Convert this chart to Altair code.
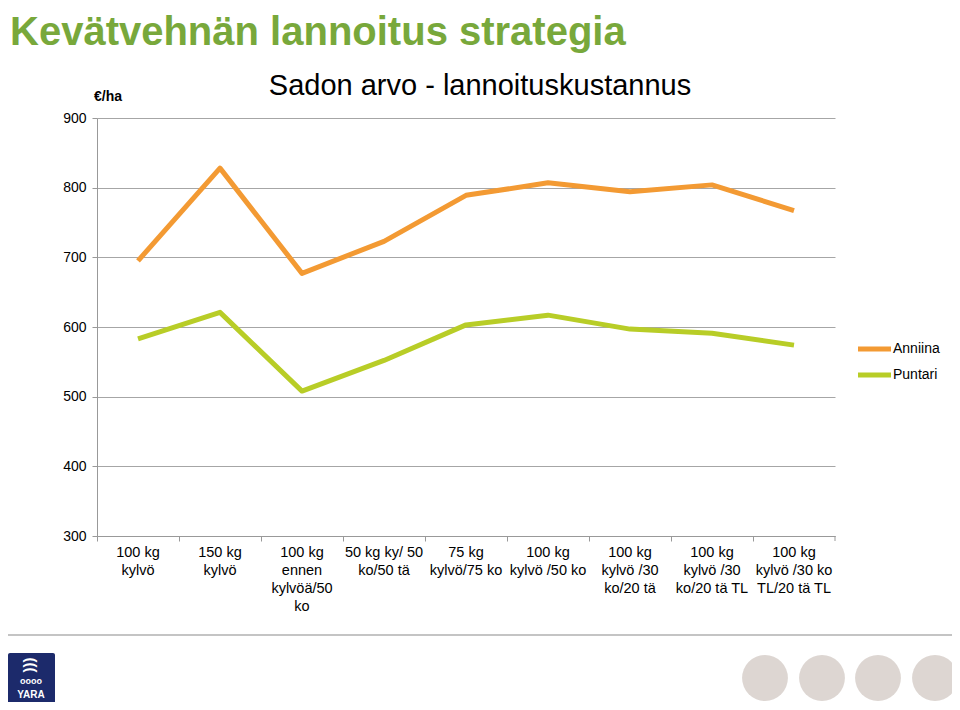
import altair as alt
import pandas as pd

categories = [
    "100 kg\nkylvö",
    "150 kg\nkylvö",
    "100 kg\nennen\nkylvöä/50\nko",
    "50 kg ky/ 50\nko/50 tä",
    "75 kg\nkylvö/75 ko",
    "100 kg\nkylvö /50 ko",
    "100 kg\nkylvö /30\nko/20 tä",
    "100 kg\nkylvö /30\nko/20 tä TL",
    "100 kg\nkylvö /30 ko\nTL/20 tä TL",
]
anniina = [695, 828, 677, 723, 789, 807, 794, 804, 767]
puntari = [583, 621, 508, 552, 603, 617, 597, 591, 574]
series_names = ["Anniina", "Puntari"]
series_colors = ["#f39a33", "#b8cd27"]
y_ticks = [300, 400, 500, 600, 700, 800, 900]

title_text = "Kevätvehnän lannoitus strategia"
subtitle_text = "Sadon arvo - lannoituskustannus"
unit_text = "€/ha"

rows = []
for name, vals in zip(series_names, [anniina, puntari]):
    for c, v in zip(categories, vals):
        rows.append({"category": c, "series": name, "value": v})
df = pd.DataFrame(rows)

W, H = 738, 418
FONT = "Liberation Sans"
one = pd.DataFrame({"k": [0]})

lines = alt.Chart(df).mark_line(strokeWidth=5, strokeJoin="round", strokeCap="butt").encode(
    x=alt.X(
        "category:N",
        sort=categories,
        scale=alt.Scale(type="band", paddingInner=0, paddingOuter=0),
        axis=alt.Axis(
            title=None,
            labelAngle=0,
            labelExpr="split(datum.label, '\\n')",
            labelFontSize=14.5,
            labelLineHeight=18,
            labelFont=FONT,
            labelColor="#000000",
            labelPadding=4,
            tickSize=5,
            tickColor="#999999",
            domainColor="#999999",
            bandPosition=0,
            grid=False,
        ),
    ),
    y=alt.Y(
        "value:Q",
        scale=alt.Scale(domain=[300, 900], nice=False, zero=False),
        axis=alt.Axis(
            title=None,
            values=y_ticks,
            labelFontSize=14,
            labelFont=FONT,
            labelColor="#000000",
            labelPadding=6,
            tickSize=5,
            tickColor="#999999",
            domainColor="#999999",
            gridColor="#a6a6a6",
            gridWidth=1,
            grid=True,
        ),
    ),
    color=alt.Color(
        "series:N",
        scale=alt.Scale(domain=series_names, range=series_colors),
        legend=None,
    ),
    order=alt.Order("series:N"),
)

layers = [lines]

# last x-axis boundary tick
layers.append(
    alt.Chart(one).mark_rule(color="#999999", strokeWidth=1).encode(
        x=alt.value(W), y=alt.value(H), y2=alt.value(H + 5)
    )
)

# legend
for i, (name, col) in enumerate(zip(series_names, series_colors)):
    ly = 349 - 118 + 26 * i
    layers.append(
        alt.Chart(one).mark_rule(color=col, strokeWidth=5).encode(
            x=alt.value(858 - 97), x2=alt.value(891 - 97), y=alt.value(ly)
        )
    )
    layers.append(
        alt.Chart(pd.DataFrame({"t": [name]})).mark_text(
            align="left", baseline="middle", font=FONT, fontSize=14, color="#000000"
        ).encode(x=alt.value(893 - 97), y=alt.value(ly), text="t:N")
    )

# titles
layers.append(
    alt.Chart(pd.DataFrame({"t": [title_text]})).mark_text(
        align="left", baseline="alphabetic", font=FONT, fontSize=40,
        fontWeight="bold", color="#78a83b"
    ).encode(x=alt.value(10 - 97), y=alt.value(45 - 118), text="t:N")
)
layers.append(
    alt.Chart(pd.DataFrame({"t": [subtitle_text]})).mark_text(
        align="center", baseline="alphabetic", font=FONT, fontSize=29, color="#000000"
    ).encode(x=alt.value(480 - 97), y=alt.value(95 - 118), text="t:N")
)
layers.append(
    alt.Chart(pd.DataFrame({"t": [unit_text]})).mark_text(
        align="left", baseline="middle", font=FONT, fontSize=14,
        fontWeight="bold", color="#000000"
    ).encode(x=alt.value(94 - 97), y=alt.value(97 - 118), text="t:N")
)

# footer separator
layers.append(
    alt.Chart(one).mark_rule(color="#c4c4c4", strokeWidth=2).encode(
        x=alt.value(8 - 97), x2=alt.value(952 - 97), y=alt.value(635 - 118)
    )
)

# logo
layers.append(
    alt.Chart(one).mark_rect(color="#1c2a6b", cornerRadius=2).encode(
        x=alt.value(8 - 97), x2=alt.value(55 - 97), y=alt.value(653 - 118), y2=alt.value(706 - 118)
    )
)
layers.append(
    alt.Chart(pd.DataFrame({"t": ["((("]})).mark_text(
        align="center", baseline="middle", font=FONT, fontSize=15, fontWeight="bold",
        color="#ffffff", angle=90
    ).encode(x=alt.value(31 - 97), y=alt.value(665 - 118), text="t:N")
)
layers.append(
    alt.Chart(pd.DataFrame({"t": ["oooo"]})).mark_text(
        align="center", baseline="middle", font=FONT, fontSize=9, fontWeight="bold",
        color="#ffffff"
    ).encode(x=alt.value(31 - 97), y=alt.value(681 - 118), text="t:N")
)
layers.append(
    alt.Chart(pd.DataFrame({"t": ["YARA"]})).mark_text(
        align="center", baseline="alphabetic", font=FONT, fontSize=10, fontWeight="bold",
        color="#ffffff"
    ).encode(x=alt.value(31 - 97), y=alt.value(698 - 118), text="t:N")
)

# decorative circles
for cx in [765, 822, 878, 935]:
    layers.append(
        alt.Chart(one).mark_point(shape="circle", filled=True, color="#ddd6d2", opacity=1, size=2100).encode(
            x=alt.value(cx - 97), y=alt.value(678 - 118)
        )
    )

chart = alt.layer(*layers).properties(
    width=W,
    height=H,
    autosize="none",
    padding={"left": 89, "top": 110, "right": 117, "bottom": 166},
    background="#ffffff",
).configure_view(stroke=None)

chart.save("out.html", embed_options={"renderer": "svg", "actions": False})
